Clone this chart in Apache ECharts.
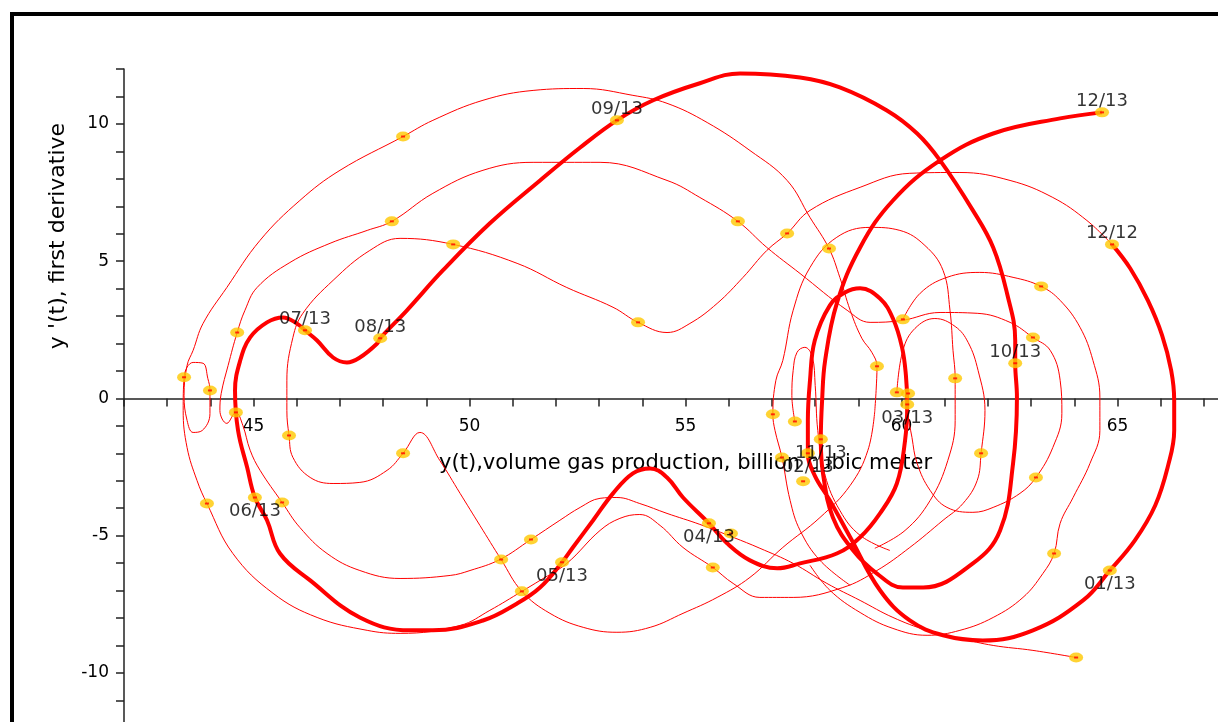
<!DOCTYPE html>
<html><head><meta charset="utf-8">
<script src="https://cdn.jsdelivr.net/npm/echarts@6/dist/echarts.min.js"></script>
<style>html,body{margin:0;padding:0;background:#fff;}#c{width:1218px;height:722px;}</style>
</head><body><div id="c"></div>
<script>
// ---- tick labels ----
const xTickLabels = [45, 50, 55, 60, 65];
const yTickLabels = [-10, -5, 0, 5, 10];

// ---- monthly points of the last year (thick curve) ----
const monthNames = ['12/12','01/13','02/13','03/13','04/13','05/13','06/13','07/13','08/13','09/13','10/13','11/13','12/13'];
const monthPoints = [[64.87,5.61],[64.82,-6.27],[57.83,-2.00],[60.13,-0.22],[55.54,-4.55],[52.14,-5.97],[45.03,-3.61],[46.19,2.48],[47.93,2.19],[53.41,10.13],[62.63,1.28],[58.13,-1.49],[64.64,10.42]];

// ---- monthly points of earlier years (unlabelled) ----
const earlierMonthPoints = [[43.39,0.77],[43.99,0.29],[44.62,2.40],[44.59,-0.51],[45.82,-1.35],[43.92,-3.83],[45.66,-3.79],[48.46,9.54],[48.20,6.45],[49.62,5.61],[53.90,2.77],[56.21,6.45],[57.35,6.01],[58.32,5.46],[48.46,-2.00],[50.73,-5.87],[51.42,-5.14],[51.21,-7.03],[56.05,-4.92],[55.63,-6.16],[57.02,-0.58],[57.53,-0.84],[57.23,-2.15],[57.72,-3.02],[59.43,1.17],[59.89,0.22],[60.15,0.18],[60.03,2.88],[61.24,0.73],[61.84,-2.00],[63.04,2.22],[63.23,4.08],[63.11,-2.88],[63.53,-5.65],[64.04,-9.44]];

// ---- thick curve: 12/12 .. 12/13 ----
const thickCurve = [[64.87,5.61],[65.29,4.74],[65.70,3.57],[66.03,2.30],[66.24,1.02],[66.31,-0.07],[66.31,-1.17],[66.17,-2.44],[65.87,-3.90],[65.40,-5.17],[64.82,-6.27],[64.20,-7.36],[63.04,-8.45],[61.88,-8.82],[60.96,-8.63],[60.19,-8.09],[59.50,-6.99],[58.81,-5.06],[58.34,-3.72],[57.99,-2.81],[57.83,-2.00],[57.83,-0.80],[57.88,0.66],[57.99,2.11],[58.34,3.39],[58.69,3.86],[59.04,4.01],[59.50,3.64],[59.80,2.91],[60.01,1.86],[60.10,0.84],[60.13,-0.22],[60.08,-1.53],[59.89,-3.10],[59.50,-4.19],[59.04,-5.06],[58.50,-5.65],[57.65,-6.01],[57.12,-6.19],[56.49,-5.90],[55.96,-5.28],[55.54,-4.55],[54.94,-3.61],[54.57,-2.88],[54.18,-2.55],[53.78,-2.73],[53.32,-3.46],[52.86,-4.44],[52.39,-5.43],[52.14,-5.97],[51.63,-6.89],[51.10,-7.47],[50.31,-8.09],[49.15,-8.45],[48.62,-8.45],[47.46,-7.98],[46.31,-6.63],[45.61,-5.65],[45.31,-4.44],[45.03,-3.61],[44.85,-2.51],[44.64,-1.17],[44.57,0.29],[44.69,1.38],[44.92,2.22],[45.31,2.77],[45.68,2.95],[46.00,2.73],[46.19,2.48],[46.47,2.11],[46.84,1.49],[47.16,1.31],[47.46,1.49],[47.86,2.00],[47.93,2.19],[48.55,3.21],[49.38,4.66],[50.47,6.38],[51.63,7.94],[52.56,9.14],[53.41,10.13],[54.25,10.86],[55.33,11.48],[56.26,11.84],[57.65,11.69],[58.57,11.33],[59.66,10.49],[60.36,9.65],[60.89,8.67],[61.65,6.85],[62.12,5.50],[62.44,3.83],[62.63,2.11],[62.63,1.28],[62.67,0.04],[62.58,-2.37],[62.28,-4.81],[61.65,-6.01],[60.50,-6.89],[60.03,-6.89],[59.43,-6.38],[58.88,-5.54],[58.41,-4.34],[58.18,-2.73],[58.13,-1.49],[58.16,-0.07],[58.23,1.38],[58.50,3.46],[59.04,5.50],[59.80,7.21],[60.89,8.67],[62.12,9.65],[63.67,10.20],[64.64,10.42]];

// ---- thin curves: earlier years ----
const thinCurve1 = [[64.04,-9.44],[63.04,-9.18],[62.12,-9.00],[61.35,-8.74],[60.59,-8.45],[59.80,-7.98],[59.04,-7.36],[58.27,-6.74],[57.49,-6.01],[56.72,-5.46],[56.10,-5.06],[55.33,-4.59],[54.57,-4.19],[53.94,-3.83],[53.41,-3.61],[53.02,-3.64],[52.56,-3.97],[52.09,-4.44],[51.42,-5.14],[50.70,-5.87],[50.01,-6.27],[49.55,-6.45],[48.39,-6.56],[47.46,-6.27],[46.70,-5.65],[46.07,-4.70],[45.66,-3.79],[45.15,-2.62],[44.92,-1.89],[44.75,-0.98],[44.59,-0.51],[44.38,-0.91],[44.22,-0.44],[44.25,0.18],[44.41,1.20],[44.62,2.40],[44.80,3.21],[45.08,4.04],[45.84,4.95],[46.77,5.65],[47.63,6.12],[48.20,6.45],[49.15,7.47],[50.31,8.31],[51.47,8.60],[53.02,8.60],[54.57,7.94],[55.33,7.32],[56.21,6.45],[56.88,5.50],[57.65,4.55],[58.74,3.21],[59.27,2.77],[60.01,2.84],[60.89,3.13],[61.75,3.10],[62.51,2.77],[63.04,2.22],[63.44,1.75],[63.67,0.66],[63.71,-0.55],[63.50,-1.79],[63.11,-2.88],[62.74,-3.46],[62.12,-3.97],[61.65,-4.15],[61.05,-3.97],[60.66,-3.35],[60.36,-2.37],[60.24,-1.42],[60.15,-0.44],[60.15,0.15]];

const thinCurve2 = [[59.89,0.22],[60.03,1.75],[60.31,2.55],[60.77,2.91],[61.24,2.62],[61.54,2.04],[61.77,1.02],[61.93,-0.44],[61.84,-2.00],[61.75,-2.99],[61.42,-3.83],[60.96,-4.44],[60.19,-5.43],[59.43,-6.27],[58.64,-6.89],[57.49,-7.25],[56.72,-7.25],[56.10,-6.74],[55.63,-6.16],[54.94,-5.43],[54.41,-4.63],[53.94,-4.23],[53.48,-4.37],[53.02,-4.81],[52.25,-6.01],[51.63,-6.63],[51.21,-7.03],[50.47,-7.72],[49.78,-8.27],[48.39,-8.56],[47.63,-8.45],[46.47,-7.98],[45.45,-7.10],[44.52,-5.65],[43.92,-3.83],[43.69,-2.99],[43.46,-1.79],[43.37,-0.44],[43.39,0.77],[43.60,1.31],[43.83,1.28],[43.94,0.73],[43.99,0.29],[43.99,-0.55],[43.81,-1.17],[43.60,-1.24],[43.46,-0.80],[43.39,0.11],[43.46,1.20],[43.60,1.75],[43.83,2.73],[44.38,4.04],[45.15,5.76],[46.07,7.21],[47.00,8.31],[48.46,9.54],[49.15,10.13],[50.31,10.86],[51.47,11.22],[52.63,11.29],[53.78,11.04],[54.57,10.75],[55.50,10.05],[56.49,9.03],[57.35,7.94],[57.88,6.59],[58.32,5.46],[58.57,4.41],[58.81,3.21],[59.08,2.19],[59.31,1.68],[59.43,1.17],[59.41,0.29],[59.38,-0.44]];

const thinCurve3 = [[59.38,-0.44],[59.22,-1.89],[58.81,-3.17],[58.11,-4.34],[57.25,-5.43],[56.49,-6.52],[55.73,-7.25],[54.94,-7.83],[54.18,-8.34],[53.41,-8.52],[52.63,-8.34],[51.86,-7.83],[51.21,-7.03],[50.73,-5.87],[50.24,-4.63],[49.78,-3.46],[49.31,-2.26],[48.85,-1.24],[48.46,-2.00],[48.09,-2.62],[47.46,-3.06],[46.84,-3.10],[46.31,-2.88],[45.91,-2.15],[45.82,-1.35],[45.77,-0.44],[45.77,0.66],[45.91,2.22],[46.14,3.10],[46.84,4.30],[47.69,5.39],[48.39,5.83],[49.62,5.61],[51.10,4.92],[52.25,4.04],[53.32,3.32],[53.90,2.77],[54.57,2.40],[55.10,2.73],[55.73,3.46],[56.33,4.41],[56.88,5.39],[57.35,6.01],[57.88,6.85],[59.04,7.69],[60.19,8.20],[61.35,8.23],[62.51,7.94],[63.50,7.32],[64.29,6.48],[64.87,5.61]];

const thinCurve4 = [[58.81,-6.81],[58.11,-5.90],[57.65,-4.81],[57.42,-3.72],[57.23,-2.15],[57.07,-1.17],[57.02,-0.58],[57.09,0.66],[57.25,1.38],[57.49,3.21],[57.88,4.77],[58.50,5.87],[59.27,6.23],[59.96,6.12],[60.54,5.57],[60.96,4.66],[61.12,3.21],[61.19,1.75],[61.24,0.73],[61.24,-0.80],[61.07,-2.26],[60.66,-3.72],[60.08,-4.81],[59.38,-5.46]];

const thinCurve5 = [[60.03,2.88],[60.43,3.83],[61.05,4.41],[61.81,4.59],[62.58,4.41],[63.23,4.08],[63.67,3.57],[64.13,2.59],[64.43,1.38],[64.59,0.04],[64.59,-1.17],[64.36,-2.37],[63.97,-3.61],[63.67,-4.55],[63.53,-5.65],[63.27,-6.38],[62.81,-7.25],[62.12,-7.98],[61.35,-8.45],[60.59,-8.63],[59.80,-8.38],[59.04,-7.80],[58.34,-6.99],[57.88,-6.08]];

const thinCurve6 = [[57.53,-0.84],[57.46,0.11],[57.49,1.02],[57.58,1.68],[57.76,1.86],[57.93,1.53],[58.00,0.47],[58.06,-1.17],[58.23,-2.81],[58.57,-4.08],[59.04,-4.99],[59.73,-5.54]];

const thinCurves = [thinCurve1, thinCurve2, thinCurve3, thinCurve4, thinCurve5, thinCurve6];

// ---- chart ----
const chart = echarts.init(document.getElementById('c'), null, {renderer: 'canvas'});
const FONT = 'DejaVu Sans';
const RED = '#ff0000';
const MARK = '#ffc800';
const AXIS = '#222';
const Y_MIN = -12, Y_MAX = 12, X_MIN = 42, X_MAX = 68;
const GRID = {left: 124, top: 69, width: (X_MAX - X_MIN) * 43.2, height: (Y_MAX - Y_MIN) * 27.45};
// x axis drawn at y = 0: shift it up from the grid bottom by the part of the range below zero
const xAxisOffset = -(0 - Y_MIN) / (Y_MAX - Y_MIN) * GRID.height;

const series = [];
thinCurves.forEach(function (c) {
  series.push({type: 'line', data: c, symbol: 'none', smooth: 0.4, z: 2,
    lineStyle: {color: RED, width: 1}, silent: true});
});
series.push({type: 'line', data: thickCurve, symbol: 'none', smooth: 0.4, z: 3,
  lineStyle: {color: RED, width: 4}, silent: true});

const allMarks = earlierMonthPoints.concat(monthPoints);
series.push({type: 'scatter', data: allMarks, symbol: 'circle', symbolSize: [14, 10], z: 4,
  itemStyle: {color: MARK}, silent: true});
series.push({type: 'scatter', data: allMarks, symbol: 'rect', symbolSize: [4, 2], z: 5,
  itemStyle: {color: RED}, silent: true});
series.push({type: 'scatter', z: 6, symbolSize: 0, silent: true,
  data: monthPoints.map(function (p, i) {
    return {value: p, name: monthNames[i],
      label: {offset: [0, p[1] >= 0 ? -11 : 14]}};
  }),
  label: {show: true, position: 'inside', formatter: '{b}',
    fontFamily: FONT, fontSize: 18, color: '#000'}
});

chart.setOption({
  animation: false,
  backgroundColor: '#fff',
  grid: Object.assign({containLabel: false, outerBoundsMode: 'none'}, GRID),
  xAxis: {type: 'value', min: X_MIN, max: X_MAX, interval: 1, position: 'bottom', offset: xAxisOffset,
    name: 'y(t),volume gas production, billion cubic meter',
    nameLocation: 'middle', nameGap: 55,
    nameTextStyle: {fontFamily: FONT, fontSize: 21, color: '#000'},
    axisLine: {onZero: false, lineStyle: {color: AXIS, width: 1.5}},
    axisTick: {show: true, length: 8, lineStyle: {color: AXIS, width: 1.5}},
    axisLabel: {show: true, margin: 20, fontFamily: FONT, fontSize: 17, color: '#000',
      formatter: function (v) { return xTickLabels.indexOf(v) >= 0 ? String(v) : ''; }},
    splitLine: {show: false}},
  yAxis: {type: 'value', min: Y_MIN, max: Y_MAX, interval: 1,
    axisLine: {onZero: false, lineStyle: {color: AXIS, width: 1.5}},
    axisTick: {show: true, length: 8, lineStyle: {color: AXIS, width: 1.5}},
    axisLabel: {margin: 15, fontFamily: FONT, fontSize: 17, color: '#000',
      formatter: function (v) { return yTickLabels.indexOf(v) >= 0 ? String(v) : ''; }},
    splitLine: {show: false}},
  graphic: [
    {type: 'rect', z: 100, silent: true, shape: {x: 12, y: 14, width: 1400, height: 900},
      style: {fill: 'none', stroke: '#000', lineWidth: 4}},
    {type: 'text', z: 100, silent: true, x: 58, y: 236, rotation: Math.PI / 2,
      style: {text: "y '(t), first derivative", font: '22px "DejaVu Sans"', fill: '#000',
        align: 'center', verticalAlign: 'middle'}}
  ],
  series: series
});
</script>
</body></html>
